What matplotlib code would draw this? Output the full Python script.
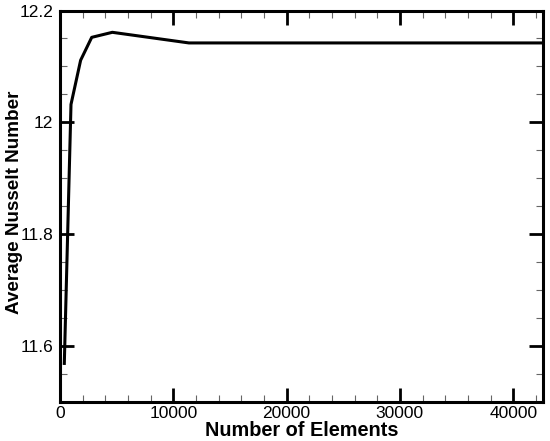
import matplotlib
matplotlib.use("Agg")
import matplotlib.pyplot as plt
from matplotlib.ticker import MultipleLocator

elements = [380, 970, 1820, 2800, 4620, 11380, 42600]
nusselt = [11.569, 12.032, 12.111, 12.152, 12.161, 12.142, 12.142]

plt.rcParams['font.family'] = ['Liberation Sans', 'DejaVu Sans']

fig = plt.figure(figsize=(5.5, 4.41), dpi=100)
ax = fig.add_axes([60/550, 1 - 402/441, (543-60)/550, (402-10.5)/441])
ax.plot(elements, nusselt, color='black', lw=2.2)
ax.set_xlim(0, 42630)
ax.set_ylim(11.5, 12.2)
ax.xaxis.set_minor_locator(MultipleLocator(2000))
ax.yaxis.set_minor_locator(MultipleLocator(0.05))
ax.set_yticks([11.6, 11.8, 12.0, 12.2])
ax.set_yticklabels(['11.6', '11.8', '12', '12.2'])
ax.set_xticks([0, 10000, 20000, 30000, 40000])
ax.set_xticklabels(['0', '10000', '20000', '30000', '40000'])
ax.tick_params(which='both', direction='in', top=True, right=True, labelsize=12.5)
ax.tick_params(which='major', length=10, width=2, pad=5)
ax.tick_params(axis='x', which='major', pad=3)
ax.tick_params(which='minor', length=5, width=0.8, color='#666666')
for s in ax.spines.values():
    s.set_linewidth(2.2)
fig.text(302/550, 5/441, 'Number of Elements', fontsize=14.3, fontweight='bold',
         ha='center', va='baseline')
fig.text(15/550, 239/441, 'Average Nusselt Number', fontsize=13.6, fontweight='bold',
         ha='center', va='center', rotation=90)
fig.savefig('out.png', dpi=100)
